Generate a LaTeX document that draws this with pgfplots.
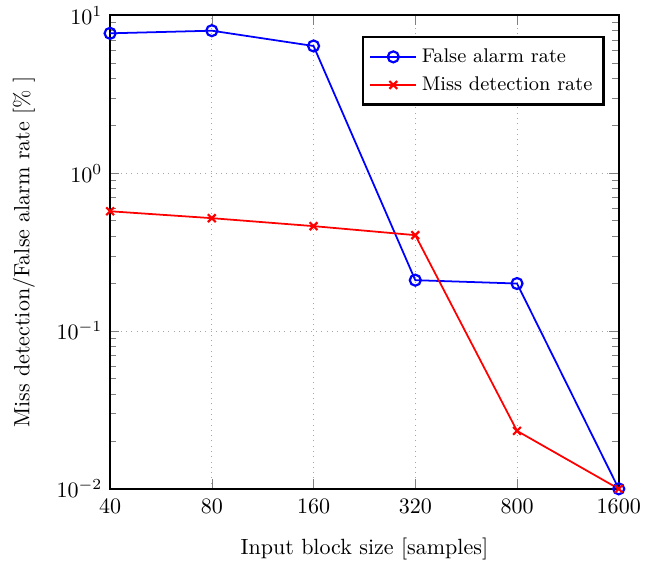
\documentclass[border=0pt]{standalone}
\usepackage{pgfplots}
\pgfplotsset{compat=1.18}
\begin{document}
\begin{tikzpicture}
% fixed frame around the axis box (axis lower-left corner sits at the origin)
\useasboundingbox (-50pt,-34pt) rectangle (252pt,222pt);
\begin{semilogyaxis}[
  scale only axis,
  width=231pt, height=215pt,
  xmin=0, xmax=5,
  ymin=1e-2, ymax=10,
  xtick={0,1,2,3,4,5},
  xticklabels={40,80,160,320,800,1600},
  ytick={0.01,0.1,1,10},
  grid=major,
  major grid style={dotted, gray!70},
  axis line style={line width=1pt},
  xticklabel style={yshift=-1pt},
  xlabel={Input block size [samples]},
  ylabel={Miss detection/False alarm rate [\% ]},
  xlabel style={yshift=-4pt},
  ylabel style={yshift=3pt},
  legend style={at={(0.972,0.956)}, anchor=north east, draw=black, line width=1pt,
    font=\small, row sep=1pt, inner ysep=3pt},
  legend image code/.code={%
    \draw[mark repeat=2,mark phase=2] plot coordinates {(0cm,0cm) (0.37cm,0cm) (0.74cm,0cm)};},
  legend cell align=left,
]
\addplot[blue, thick, mark=o, mark options={solid, line width=1pt}, mark size=2.5pt] coordinates {
  (0,7.7) (1,8.0) (2,6.4) (3,0.21) (4,0.20) (5,0.01)
};
\addlegendentry{False alarm rate}
\addplot[red, thick, mark=x, mark options={solid, line width=1pt}, mark size=2.5pt] coordinates {
  (0,0.574) (1,0.519) (2,0.462) (3,0.405) (4,0.0233) (5,0.01)
};
\addlegendentry{Miss detection rate}
\end{semilogyaxis}
\end{tikzpicture}
\end{document}
